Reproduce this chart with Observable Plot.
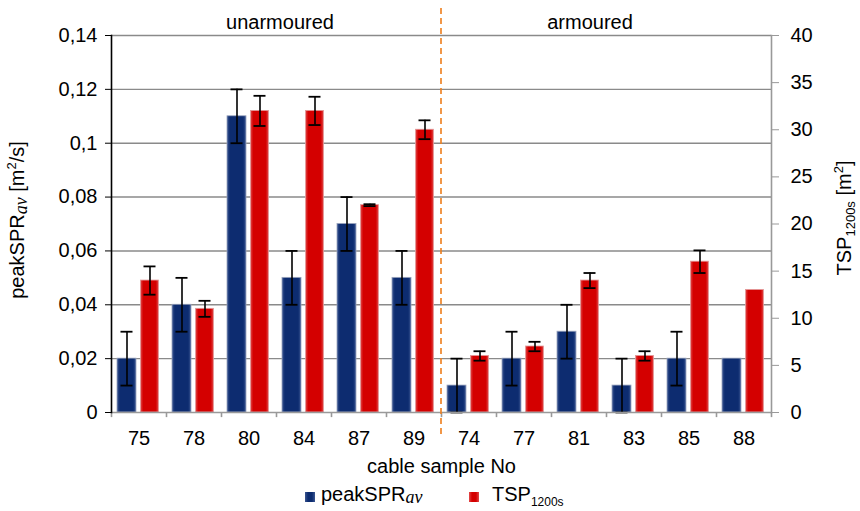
<!DOCTYPE html>
<html><head><meta charset="utf-8">
<script src="https://cdn.jsdelivr.net/npm/d3@7"></script>
<script src="https://cdn.jsdelivr.net/npm/@observablehq/plot@0.6"></script>
<style>
body{margin:0;background:#fff;font-family:"Liberation Sans",Arial,sans-serif;}
#chart{position:relative;width:860px;height:511px;}
.legend{position:absolute;left:0;top:481px;width:860px;height:30px;font-size:20px;color:#000;line-height:23px;}
.legend .item{position:absolute;top:2px;white-space:nowrap;}
.legend .sw{position:absolute;width:10px;height:10px;top:11px;}
.math{font-family:"Liberation Serif","DejaVu Serif",serif;font-style:italic;font-size:18px;position:relative;top:2px;}
.sub{font-size:12px;position:relative;top:5px;}
</style></head><body><div id="chart"></div>
<script>
const samples = ["75","78","80","84","87","89","74","77","81","83","85","88"];
const peakSPR = [0.02,0.04,0.11,0.05,0.07,0.05,0.01,0.02,0.03,0.01,0.02,0.02];
const peakSPRErr = [0.01,0.01,0.01,0.01,0.01,0.01,0.01,0.01,0.01,0.01,0.01,0];
const tsp = [14,11,32,32,22,30,6,7,14,6,16,13];
const tspErr = [1.5,0.85,1.6,1.5,0.1,1,0.5,0.5,0.8,0.5,1.2,0];
const leftTicks = [0,0.02,0.04,0.06,0.08,0.1,0.12,0.14];
const rightTicks = [0,5,10,15,20,25,30,35,40];
const groupLabels = ["unarmoured","armoured"];

const k = 0.14/40; // right axis units -> left axis units
const rows = samples.map((s,i)=>({
  sample:s,
  spr:peakSPR[i], sprLo:peakSPR[i]-peakSPRErr[i], sprHi:peakSPR[i]+peakSPRErr[i], sprHasErr:peakSPRErr[i]>0,
  tsp:tsp[i]*k, tspLo:(tsp[i]-tspErr[i])*k, tspHi:(tsp[i]+tspErr[i])*k, tspHasErr:tspErr[i]>0
}));
const sprErrRows = rows.filter(d=>d.sprHasErr);
const tspErrRows = rows.filter(d=>d.tspHasErr);
const fmtLeft = d => d===0 ? "0" : String(+d.toFixed(2)).replace(".",",");
const FS = 20;

const plot = Plot.plot({
  width:860, height:480,
  marginLeft:111, marginRight:89, marginTop:35, marginBottom:68,
  style:{fontFamily:"'Liberation Sans', Arial, sans-serif", fontSize:FS+"px", color:"#000", background:"#fff"},
  x:{type:"band", domain:samples, padding:0, axis:null},
  y:{domain:[0,0.14], axis:null},
  marks:[
    Plot.gridY(leftTicks.slice(1), {stroke:"#8a8a8a", strokeOpacity:1, strokeWidth:1.4}),
    // bars
    Plot.barY(rows, {x:"sample", y:"spr", fill:"url(#gradBlue)", stroke:"#9aa4bd", strokeWidth:0.8, insetLeft:6, insetRight:30}),
    Plot.barY(rows, {x:"sample", y:"tsp", fill:"url(#gradRed)", stroke:"#e39a9a", strokeWidth:0.8, insetLeft:29.5, insetRight:7.5}),
    // error bars peakSPR
    Plot.ruleX(sprErrRows, {x:"sample", y1:"sprLo", y2:"sprHi", dx:-12, stroke:"#000", strokeWidth:1.6}),
    Plot.tickY(sprErrRows, {x:"sample", y:"sprLo", insetLeft:9.5, insetRight:33.5, stroke:"#000", strokeWidth:1.8}),
    Plot.tickY(sprErrRows, {x:"sample", y:"sprHi", insetLeft:9.5, insetRight:33.5, stroke:"#000", strokeWidth:1.8}),
    // error bars TSP
    Plot.ruleX(tspErrRows, {x:"sample", y1:"tspLo", y2:"tspHi", dx:11, stroke:"#000", strokeWidth:1.6}),
    Plot.tickY(tspErrRows, {x:"sample", y:"tspLo", insetLeft:32.5, insetRight:10.5, stroke:"#000", strokeWidth:1.8}),
    Plot.tickY(tspErrRows, {x:"sample", y:"tspHi", insetLeft:32.5, insetRight:10.5, stroke:"#000", strokeWidth:1.8}),
    // bottom axis line + boundary ticks
    Plot.ruleY([0], {stroke:"#999", strokeWidth:1.6}),
    Plot.ruleX(samples, {x:d=>d, dx:-27.5, y1:0, y2:-0.0019, stroke:"#999", strokeWidth:1.6}),
    Plot.ruleX([samples[samples.length-1]], {x:d=>d, dx:27.5, y1:0, y2:-0.0019, stroke:"#999", strokeWidth:1.6}),
    // left axis (black)
    Plot.frame({anchor:"left", stroke:"#000", strokeWidth:1.6}),
    Plot.axisY(leftTicks, {anchor:"left", tickFormat:fmtLeft, tickSize:6, tickPadding:8, stroke:"#000", fill:"#000", fontSize:FS, label:null}),
    // right axis (grey)
    Plot.frame({anchor:"right", stroke:"#999", strokeWidth:1.6}),
    Plot.axisY(rightTicks.map(v=>v*k), {anchor:"right", tickFormat:d=>String(Math.round(d/k)), tickSize:7, tickPadding:12, stroke:"#999", fill:"#000", fontSize:FS, label:null}),
    // x tick labels
    Plot.axisX(samples, {tickSize:0, tickPadding:18, fill:"#000", fontSize:FS, label:null}),
    Plot.text(["cable sample No"], {frameAnchor:"bottom", dy:60, text:d=>d, fontSize:FS, fill:"#000"}),
    // separator
    Plot.ruleX([samples[6]], {x:d=>d, dx:-28, insetTop:-27, insetBottom:-23, stroke:"#ee7d1b", strokeWidth:1.6, strokeDasharray:"6,4"}),
    // group labels
    Plot.text([groupLabels[0]], {x:()=>samples[3], dx:-24, frameAnchor:"top", dy:-21, text:d=>d, fontSize:FS, fill:"#000"}),
    Plot.text([groupLabels[1]], {x:()=>samples[9], dx:-44, frameAnchor:"top", dy:-21, text:d=>d, fontSize:FS, fill:"#000"})
  ]
});

// gradients for Excel-like bars
const svg = d3.select(plot);
const defs = svg.insert("defs", ":first-child");
const g1 = defs.append("linearGradient").attr("id","gradBlue").attr("x1","0").attr("x2","1").attr("y1","0").attr("y2","0");
[["0%","#3b5691"],["15%","#0d2c70"],["85%","#0d2c70"],["100%","#3b5691"]].forEach(([o,c])=>g1.append("stop").attr("offset",o).attr("stop-color",c));
const g2 = defs.append("linearGradient").attr("id","gradRed").attr("x1","0").attr("x2","1").attr("y1","0").attr("y2","0");
[["0%","#e24a4a"],["15%","#d40000"],["85%","#d40000"],["100%","#e24a4a"]].forEach(([o,c])=>g2.append("stop").attr("offset",o).attr("stop-color",c));

// axis titles with rich text
const yl = svg.append("text").attr("transform","translate(24,220) rotate(-90)").attr("text-anchor","middle")
  .attr("font-size",FS).attr("fill","#000").attr("font-family","'Liberation Sans', Arial, sans-serif");
yl.append("tspan").text("peakSPR");
yl.append("tspan").attr("font-family","'Liberation Serif', serif").attr("font-style","italic").attr("font-size",18).attr("dy",3).text("av");
yl.append("tspan").attr("dy",-3).text(" [m");
yl.append("tspan").attr("font-size",13).attr("dy",-8).text("2");
yl.append("tspan").attr("dy",8).text("/s]");

const yr = svg.append("text").attr("transform","translate(851,218) rotate(-90)").attr("text-anchor","middle")
  .attr("font-size",FS).attr("fill","#000").attr("font-family","'Liberation Sans', Arial, sans-serif");
yr.append("tspan").text("TSP");
yr.append("tspan").attr("font-size",13).attr("dy",4).text("1200s");
yr.append("tspan").attr("dy",-4).text(" [m");
yr.append("tspan").attr("font-size",13).attr("dy",-8).text("2");
yr.append("tspan").attr("dy",8).text("]");

const chart = document.getElementById("chart");
chart.appendChild(plot);
const legend = document.createElement("div");
legend.className = "legend";
legend.innerHTML =
  '<span class="sw" style="left:305px;background:linear-gradient(90deg,#3b5691,#0d2c70 30%,#0d2c70 70%,#3b5691)"></span>' +
  '<span class="item" style="left:321px">peakSPR<span class="math">av</span></span>' +
  '<span class="sw" style="left:469px;background:linear-gradient(90deg,#e24a4a,#d40000 30%,#d40000 70%,#e24a4a)"></span>' +
  '<span class="item" style="left:492px">TSP<span class="sub">1200s</span></span>';
chart.appendChild(legend);
</script></body></html>
